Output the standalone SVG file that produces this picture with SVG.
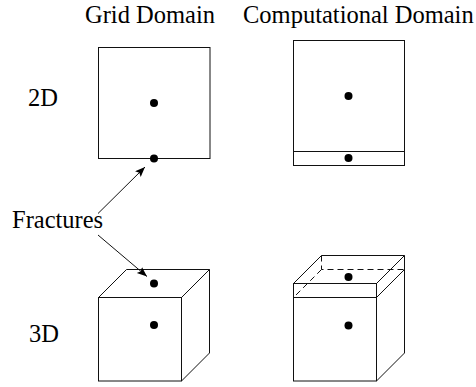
<svg xmlns="http://www.w3.org/2000/svg" width="476" height="387" viewBox="0 0 476 387">
  <style>
    .ln { fill: none; stroke: #111; stroke-width: 1; }
    .dash { fill: none; stroke: #111; stroke-width: 1; stroke-dasharray: 6 4; }
    .dot { fill: #000; }
    .arrow { fill: none; stroke: #111; stroke-width: 1; marker-end: url(#ah); }
  </style>
  <defs>
    <marker id="ah" markerUnits="userSpaceOnUse" markerWidth="12" markerHeight="10" refX="10" refY="4" orient="auto">
      <path d="M0,0 L10,4 L0,8 L2,4 Z" fill="#000"/>
    </marker>
  </defs>
  <rect width="476" height="387" fill="#fff"/>

  <g font-family="'Liberation Serif', 'Times New Roman', 'DejaVu Serif', serif" font-size="24.5" fill="#000">
    <g id="title-grid"><text x="85" y="23">Grid Domain</text></g>
    <g id="title-comp"><text x="243" y="23">Computational Domain</text></g>
    <g id="label-2d"><text x="28" y="106">2D</text></g>
    <g id="label-3d"><text x="29" y="341.5">3D</text></g>
    <g id="label-fractures"><text x="12" y="228">Fractures</text></g>
  </g>

  <g id="grid-2d">
    <rect class="ln" x="98.5" y="47.5" width="111.5" height="111"/>
    <circle class="dot" cx="154" cy="103" r="4"/>
    <circle class="dot" cx="154" cy="158.5" r="4"/>
  </g>

  <g id="comp-2d">
    <rect class="ln" x="293.5" y="40.5" width="111" height="125"/>
    <line class="ln" x1="293.5" y1="151.5" x2="404.5" y2="151.5"/>
    <circle class="dot" cx="348.5" cy="96" r="4"/>
    <circle class="dot" cx="348.5" cy="158" r="4"/>
  </g>

  <g id="grid-3d">
    <rect class="ln" x="98.5" y="297.5" width="83" height="83.5"/>
    <path class="ln" d="M98.5,297.5 L126.5,269.5 L209.5,269.5 L181.5,297.5 M209.5,269.5 L209.5,353 L181.5,381"/>
    <circle class="dot" cx="154" cy="283.5" r="4"/>
    <circle class="dot" cx="154" cy="325" r="4"/>
  </g>

  <g id="comp-3d">
    <rect class="ln" x="293.5" y="283.5" width="83" height="97.5"/>
    <line class="ln" x1="293.5" y1="297.5" x2="376.5" y2="297.5"/>
    <path class="ln" d="M293.5,283.5 L321.5,255.5 L404.5,255.5 L376.5,283.5 M404.5,255.5 L404.5,353 L376.5,381 M376.5,297.5 L404.5,269.5"/>
    <path class="dash" d="M321.5,255.5 L321.5,269.5 L404.5,269.5 M321.5,269.5 L293.5,297.5"/>
    <circle class="dot" cx="348.5" cy="277" r="4"/>
    <circle class="dot" cx="348.5" cy="325.5" r="4"/>
  </g>

  <g id="connectors">
    <line class="arrow" x1="98" y1="213.5" x2="145" y2="167"/>
    <line class="arrow" x1="98" y1="235" x2="147" y2="276.5"/>
  </g>
</svg>
